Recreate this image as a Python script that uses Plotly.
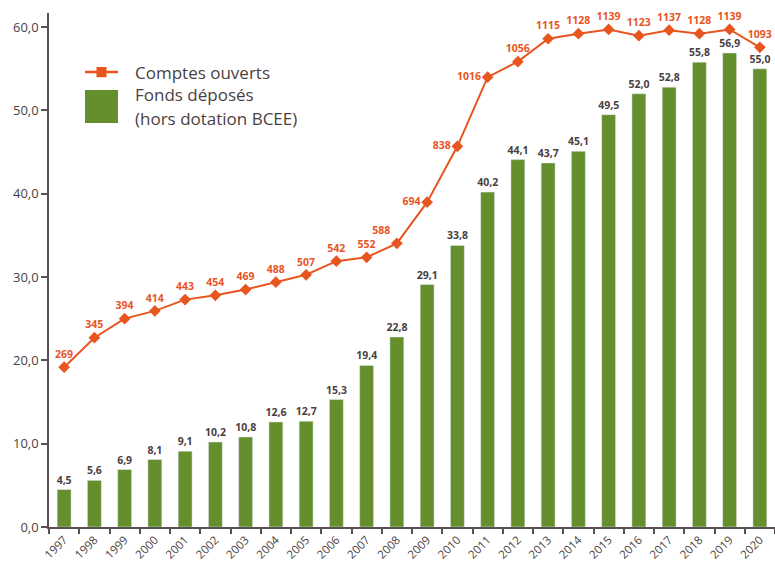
import plotly.graph_objects as go

years = [str(y) for y in range(1997, 2021)]
fonds = [4.5, 5.6, 6.9, 8.1, 9.1, 10.2, 10.8, 12.6, 12.7, 15.3, 19.4, 22.8,
         29.1, 33.8, 40.2, 44.1, 43.7, 45.1, 49.5, 52.0, 52.8, 55.8, 56.9, 55.0]
comptes = [269, 345, 394, 414, 443, 454, 469, 488, 507, 542, 552, 588,
           694, 838, 1016, 1056, 1115, 1128, 1139, 1123, 1137, 1128, 1139, 1093]
y_ticks = [0, 10, 20, 30, 40, 50, 60]

GREEN = "#658e2d"
ORANGE = "#e8551f"
TXT = "#4a3f42"
AXIS = "#5a5052"
FONT = "Open Sans"

label_pos = ["top center"] * len(years)
label_pos[years.index("2008")] = "top left"
for y in ("2009", "2010", "2011"):
    label_pos[years.index(y)] = "middle left"

fig = go.Figure()
fig.add_trace(go.Bar(
    x=years, y=fonds, marker_color=GREEN, width=0.46,
    text=[f"{v:.1f}".replace(".", ",") for v in fonds],
    textposition="outside", cliponaxis=False, constraintext="none",
    textfont=dict(family=FONT, size=10.5, color=TXT, weight="bold"),
    showlegend=False, yaxis="y"))
fig.add_trace(go.Scatter(
    x=years, y=comptes, mode="lines+markers+text",
    line=dict(color=ORANGE, width=2),
    marker=dict(symbol="diamond", size=9, color=ORANGE),
    text=[str(v) for v in comptes], textposition=label_pos,
    textfont=dict(family=FONT, size=10.5, color=ORANGE, weight="bold"),
    cliponaxis=False, showlegend=False, yaxis="y2"))

# custom legend
fig.add_shape(type="line", xref="paper", yref="paper", x0=0.0496, x1=0.095,
              y0=0.885, y1=0.885, line=dict(color=ORANGE, width=2.5))
fig.add_shape(type="rect", xref="paper", yref="paper", x0=0.0654, x1=0.0792,
              y0=0.875, y1=0.895, fillcolor=ORANGE, line=dict(width=0))
fig.add_shape(type="rect", xref="paper", yref="paper", x0=0.0496, x1=0.095,
              y0=0.786, y1=0.850, fillcolor=GREEN, line=dict(width=0))
for txt, yy in [("Comptes ouverts", 0.885), ("Fonds déposés", 0.8405),
                ("(hors dotation BCEE)", 0.7957)]:
    fig.add_annotation(text=txt, xref="paper", yref="paper", x=0.1157, y=yy,
                       xanchor="left", yanchor="middle", showarrow=False,
                       font=dict(family=FONT, size=17, color=TXT))

fig.update_layout(
    width=775, height=566,
    margin=dict(l=49, r=0, t=13, b=39, autoexpand=False),
    plot_bgcolor="white", paper_bgcolor="white",
    separators=", ",
    font=dict(family=FONT, color=TXT),
    xaxis=dict(type="category", tickson="boundaries", ticks="outside",
               range=[-0.5, len(years) - 0.5],
               ticklen=5, tickcolor=AXIS, tickwidth=1.5, automargin=False,
               showline=True, linecolor=AXIS, linewidth=1.5,
               tickangle=-45, tickfont=dict(size=11.5, color=TXT),
               showgrid=False),
    yaxis=dict(range=[0, 61.7], tickvals=y_ticks, tickformat=".1f",
               ticks="outside", ticklen=6, tickcolor=AXIS, tickwidth=1.5,
               showline=True, linecolor=AXIS, linewidth=1.5, automargin=False,
               showgrid=False, zeroline=False,
               tickfont=dict(size=13, color=TXT)),
    yaxis2=dict(range=[-142.7, 1181.3], overlaying="y", visible=False),
    bargap=0.5,
)

fig.write_html(
    "out.html",
    config={"displayModeBar": False},
    post_script="document.body.style.margin='0';"
                "document.body.style.overflow='hidden';",
)
